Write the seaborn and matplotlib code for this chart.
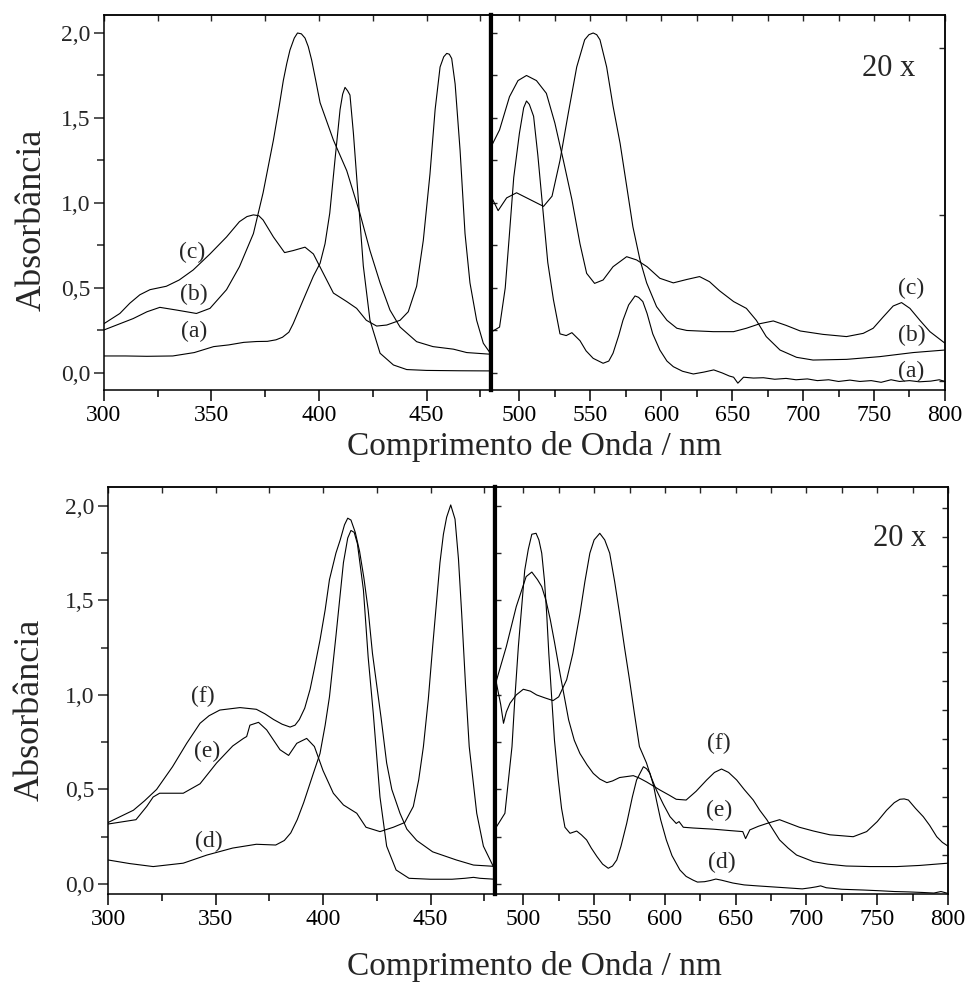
import numpy as np
import pandas as pd
import matplotlib
matplotlib.use('Agg')
import matplotlib.pyplot as plt
import seaborn as sns
from matplotlib.ticker import MultipleLocator, FixedLocator, NullFormatter

# ---------------- data ----------------
# upper panel, 300-480 nm
a_left_nm = [300, 310, 320, 332, 342, 351, 358, 365, 371, 376, 380, 383, 386, 388, 392, 397.4,
             400.5, 402.8, 405, 407.4, 409.8, 411, 412.1, 413.3, 414.4, 416, 418.3, 420.6, 423.7,
             428.4, 434.6, 440.8, 450, 465, 480]
a_left_abs = [0.10, 0.10, 0.098, 0.10, 0.12, 0.155, 0.165, 0.18, 0.185, 0.186, 0.195, 0.21, 0.24,
              0.29, 0.41, 0.57, 0.645, 0.76, 0.94, 1.25, 1.55, 1.64, 1.68, 1.66, 1.635, 1.41, 1.02,
              0.63, 0.31, 0.116, 0.047, 0.02, 0.015, 0.013, 0.012]
b_left_nm = [300, 313.6, 320, 326, 333.8, 343, 349.3, 357, 363, 369.5, 374, 378.8, 381.5, 383.4,
             385, 386.5, 388.5, 390, 391.8, 393.5, 395, 396.6, 398.5, 400.5, 406.7, 412.9, 419,
             423.7, 428.4, 433, 437.7, 445.4, 453, 462.5, 468.7, 480]
b_left_abs = [0.253, 0.32, 0.36, 0.386, 0.37, 0.35, 0.38, 0.49, 0.625, 0.82, 1.06, 1.37, 1.57,
              1.72, 1.82, 1.90, 1.97, 2.0, 1.995, 1.97, 1.92, 1.84, 1.72, 1.59, 1.37, 1.19, 0.94,
              0.72, 0.53, 0.37, 0.27, 0.184, 0.155, 0.14, 0.12, 0.11]
c_left_nm = [300, 307.4, 312, 316.7, 321.4, 329, 335, 341.5, 349.3, 357, 363, 366.5, 369.5, 372,
             374, 378.8, 384, 388, 393.5, 397.4, 402, 406.7, 412.9, 417.5, 422, 426.8, 431.5,
             437.7, 441.5, 445.4, 448.5, 451.6, 454, 456.3, 458, 459.4, 460.6, 461.7, 463.3, 465.6,
             467.9, 470.2, 473.3, 476.4, 480]
c_left_abs = [0.29, 0.35, 0.41, 0.46, 0.49, 0.51, 0.547, 0.606, 0.70, 0.80, 0.89, 0.92, 0.93,
              0.925, 0.90, 0.80, 0.708, 0.72, 0.74, 0.70, 0.586, 0.47, 0.42, 0.38, 0.31, 0.276,
              0.282, 0.31, 0.36, 0.51, 0.78, 1.17, 1.55, 1.80, 1.86, 1.88, 1.875, 1.85, 1.70, 1.31,
              0.82, 0.53, 0.31, 0.175, 0.11]

# upper panel, 480-800 nm (20 x)
a_right_nm = [480, 486, 490, 493, 496, 500, 503, 505, 507, 510, 513, 517, 520, 524, 528.6, 533,
              537, 542.7, 547, 552, 559, 563, 566, 570, 573, 577, 581.5, 584, 587, 590, 594, 599,
              604, 608.5, 615, 622.6, 630, 637, 643, 648, 651, 654, 658, 665, 672, 680, 688, 695,
              703, 710, 718, 725, 733, 740, 748, 755, 762, 768, 775, 782, 790, 796, 800]
a_right_abs = [0.24, 0.27, 0.50, 0.82, 1.15, 1.41, 1.56, 1.60, 1.58, 1.51, 1.28, 0.92, 0.65, 0.43,
               0.23, 0.22, 0.237, 0.19, 0.13, 0.086, 0.057, 0.07, 0.116, 0.22, 0.31, 0.40, 0.453,
               0.445, 0.42, 0.35, 0.23, 0.135, 0.07, 0.037, 0.01, -0.006, 0.005, 0.018, 0.0,
               -0.018, -0.025, -0.06, -0.025, -0.03, -0.028, -0.037, -0.032, -0.04, -0.035,
               -0.045, -0.04, -0.05, -0.042, -0.05, -0.045, -0.055, -0.04, -0.05, -0.045, -0.052,
               -0.048, -0.04, -0.05]
b_right_nm = [480, 486, 493, 499, 505, 512, 519, 525, 531, 537, 542.7, 547.4, 553, 559, 566, 575.6,
              582.6, 590, 599, 608.5, 618, 627, 634, 641, 651, 660, 667, 674, 683.7, 695.4, 707,
              730.6, 754, 777.6, 800]
b_right_abs = [1.33, 1.43, 1.625, 1.72, 1.75, 1.72, 1.645, 1.47, 1.25, 1.02, 0.76, 0.586, 0.527,
               0.547, 0.625, 0.684, 0.665, 0.625, 0.557, 0.53, 0.55, 0.567, 0.537, 0.484, 0.42,
               0.38, 0.31, 0.214, 0.135, 0.092, 0.076, 0.08, 0.096, 0.12, 0.135]
c_right_nm = [480, 485, 491, 498, 507.5, 517, 523, 528.6, 534.5, 540.4, 546, 549, 552, 554.5, 556.8,
              561.5, 566, 571, 575.6, 580, 585, 589.7, 596.7, 604, 611, 618, 636.7, 651, 660,
              669.6, 679, 688, 698, 714, 730.6, 742.4, 749.4, 756.5, 763.5, 769.4, 775.3, 782.3,
              789.4, 800]
c_right_abs = [1.04, 0.955, 1.03, 1.06, 1.02, 0.98, 1.04, 1.25, 1.53, 1.80, 1.96, 1.99, 2.0, 1.99,
               1.96, 1.80, 1.57, 1.35, 1.10, 0.86, 0.665, 0.53, 0.39, 0.31, 0.263, 0.25, 0.243,
               0.243, 0.263, 0.29, 0.306, 0.28, 0.247, 0.227, 0.214, 0.233, 0.263, 0.33, 0.394,
               0.414, 0.38, 0.31, 0.243, 0.175]

# lower panel, 300-480 nm
d_left_nm = [300, 310, 321, 335, 346, 358, 369, 378, 382, 385, 388, 391, 395.5, 398.6, 401, 403,
             406, 409.5, 411.5, 413, 414.5, 416, 418.8, 421, 423.4, 426.5, 429.6, 434, 440, 450,
             460, 466, 470, 473, 480]
d_left_abs = [0.127, 0.108, 0.092, 0.11, 0.153, 0.19, 0.21, 0.206, 0.23, 0.27, 0.34, 0.43, 0.585,
              0.69, 0.84, 0.99, 1.31, 1.70, 1.83, 1.87, 1.86, 1.80, 1.555, 1.20, 0.90, 0.46, 0.20,
              0.074, 0.03, 0.025, 0.025, 0.03, 0.035, 0.03, 0.025]
e_left_nm = [300, 313, 318, 321, 324, 335, 342.8, 350.5, 358, 363, 364.5, 366, 370, 373.8, 380,
             384, 387.8, 392.4, 396, 400, 404.8, 409.5, 415.7, 420, 426.5, 432.7, 438, 442, 444.5,
             446.7, 449, 451, 454.4, 456, 457.5, 459.4, 461.4, 463, 464.5, 466.3, 468, 471.5,
             474.6, 480]
e_left_abs = [0.317, 0.34, 0.41, 0.46, 0.48, 0.48, 0.53, 0.64, 0.73, 0.77, 0.78, 0.84, 0.855,
              0.815, 0.71, 0.68, 0.744, 0.77, 0.727, 0.60, 0.48, 0.418, 0.374, 0.30, 0.277, 0.30,
              0.325, 0.41, 0.55, 0.727, 0.98, 1.256, 1.70, 1.85, 1.94, 2.005, 1.93, 1.72, 1.43,
              1.05, 0.727, 0.374, 0.20, 0.074]
f_left_nm = [300, 311.8, 317, 322.6, 330, 336.6, 342.8, 347, 352, 361.4, 369, 373, 377, 381, 384.7,
             387, 389, 391.5, 394, 396, 398.6, 401, 403, 406, 408, 410, 411.5, 413, 415, 417, 419,
             421, 423, 425, 427, 429.6, 432, 435.8, 439, 443.6, 451, 462, 470, 480]
f_left_abs = [0.325, 0.39, 0.44, 0.50, 0.62, 0.744, 0.85, 0.89, 0.92, 0.933, 0.924, 0.90, 0.87,
              0.845, 0.83, 0.84, 0.87, 0.93, 1.03, 1.14, 1.29, 1.45, 1.61, 1.75, 1.82, 1.90, 1.935,
              1.925, 1.86, 1.76, 1.62, 1.45, 1.22, 1.05, 0.88, 0.64, 0.50, 0.374, 0.29, 0.23, 0.17,
              0.127, 0.10, 0.093]

# lower panel, 480-800 nm (20 x)
d_right_nm = [480, 487, 492, 494, 496.5, 499, 501, 503.5, 506, 509, 511, 513, 515, 516.5, 518, 520,
              522, 524.7, 527, 529.4, 533, 537.7, 541, 544.7, 548, 552, 556, 560, 563, 566, 569,
              573, 577, 580, 584.8, 587, 589.5, 592, 594, 597, 601, 605, 610.6, 615, 620, 623, 628,
              632, 636, 640, 648, 656, 665, 675, 685, 697, 703, 707, 710, 714, 725, 740, 752, 762,
              772, 782, 790, 795, 800]
d_right_abs = [0.29, 0.374, 0.727, 0.98, 1.256, 1.48, 1.66, 1.77, 1.85, 1.855, 1.82, 1.75, 1.60,
               1.43, 1.22, 0.99, 0.76, 0.55, 0.40, 0.30, 0.268, 0.28, 0.26, 0.233, 0.19, 0.145,
               0.105, 0.083, 0.095, 0.127, 0.20, 0.32, 0.46, 0.55, 0.62, 0.61, 0.585, 0.52, 0.444,
               0.34, 0.233, 0.15, 0.074, 0.04, 0.02, 0.01, 0.012, 0.018, 0.026, 0.02, 0.005,
               -0.005, -0.01, -0.015, -0.02, -0.026, -0.02, -0.015, -0.01, -0.02, -0.028, -0.032,
               -0.036, -0.04, -0.042, -0.045, -0.048, -0.04, -0.05]
e_right_nm = [480, 484, 486, 488, 490.6, 495, 500, 505, 509.4, 515, 521, 525, 530.6, 535, 540,
              543.5, 547, 550, 554, 557.5, 561, 564.5, 568, 571.5, 575, 578.5, 582, 587, 590, 594,
              599, 603.6, 608, 610, 613, 620, 634, 645, 655, 657, 660, 666, 672, 681, 688, 695,
              705, 716.6, 725, 733, 742.5, 750, 756.6, 762, 766, 769, 772, 777, 782.5, 787, 792,
              796, 800]
e_right_abs = [1.10, 0.95, 0.85, 0.91, 0.956, 1.0, 1.03, 1.02, 1.0, 0.985, 0.97, 0.99, 1.08, 1.22,
               1.43, 1.60, 1.75, 1.82, 1.855, 1.82, 1.75, 1.60, 1.43, 1.25, 1.08, 0.90, 0.727,
               0.64, 0.57, 0.497, 0.42, 0.356, 0.32, 0.33, 0.30, 0.296, 0.29, 0.283, 0.277, 0.24,
               0.286, 0.305, 0.32, 0.34, 0.32, 0.30, 0.28, 0.26, 0.255, 0.25, 0.277, 0.33, 0.39,
               0.43, 0.448, 0.45, 0.444, 0.40, 0.356, 0.31, 0.25, 0.22, 0.20]
f_right_nm = [480, 488, 495, 502, 506, 510, 513, 516, 519, 522, 526, 532, 536, 540, 545, 549.4, 554,
              559, 563, 568, 577.7, 582, 587, 596.5, 603, 608, 615, 622, 629.5, 635, 640, 645,
              650.7, 656, 662.4, 667, 672, 677, 681, 687, 693, 705, 715, 728, 745, 763.7, 780, 800]
f_right_abs = [1.05, 1.256, 1.467, 1.626, 1.65, 1.61, 1.573, 1.50, 1.40, 1.28, 1.11, 0.868, 0.76,
               0.69, 0.63, 0.585, 0.555, 0.536, 0.545, 0.563, 0.573, 0.56, 0.54, 0.497, 0.47,
               0.448, 0.444, 0.49, 0.55, 0.59, 0.608, 0.59, 0.55, 0.50, 0.444, 0.39, 0.34, 0.28,
               0.233, 0.19, 0.153, 0.118, 0.105, 0.095, 0.092, 0.092, 0.098, 0.11]

left_xticks = [300, 350, 400, 450]
right_xticks = [500, 550, 600, 650, 700, 750, 800]
yticks = [0.0, 0.5, 1.0, 1.5, 2.0]
ytick_labels = ['0,0', '0,5', '1,0', '1,5', '2,0']
xlabel = 'Comprimento de Onda / nm'
ylabel = 'Absorbância'

# ---------------- style ----------------
sns.set_theme(style='ticks')
plt.rcParams['font.family'] = ['Liberation Serif', 'DejaVu Serif']
plt.rcParams['axes.linewidth'] = 1.1

fig = plt.figure(figsize=(9.67, 9.85), dpi=100)


def style_axes(ax, xlim, xticks, ylim, show_ylabels):
    ax.set_xlim(*xlim)
    ax.set_ylim(*ylim)
    ax.set_xticks(xticks)
    ax.xaxis.set_minor_locator(MultipleLocator(25))
    ax.tick_params(axis='x', which='both', direction='out', bottom=True, top=False,
                   labelsize=17, width=1.1, pad=3, colors='black')
    ax.tick_params(axis='x', which='major', length=8)
    ax.tick_params(axis='x', which='minor', length=5)
    ax.set_xlabel('')
    ax.set_ylabel('')
    for s in ax.spines.values():
        s.set_visible(True)
        s.set_color('black')
    # inward ticks along the top edge
    top = ax.secondary_xaxis('top')
    top.xaxis.set_major_locator(MultipleLocator(25))
    top.xaxis.set_major_formatter(NullFormatter())
    top.tick_params(direction='in', length=4, width=1.0)
    top.spines['top'].set_linewidth(1.1)
    if show_ylabels:
        ax.set_yticks(yticks)
        ax.set_yticklabels(ytick_labels)
        ax.yaxis.set_minor_locator(MultipleLocator(0.25))
        ax.tick_params(axis='y', which='both', direction='out', left=True, right=False,
                       labelsize=17, width=1.1, pad=3)
        ax.tick_params(axis='y', which='major', length=7)
        ax.tick_params(axis='y', which='minor', length=5)
        ax.spines['right'].set_linewidth(3)
    else:
        ax.yaxis.set_major_locator(MultipleLocator(0.25))
        ax.yaxis.set_major_formatter(NullFormatter())
        ax.tick_params(axis='y', which='both', direction='in', left=True, right=False,
                       length=4, width=1.0)
        ax.spines['left'].set_linewidth(3)


def draw_curves(ax, curves):
    for nm, ab in curves:
        sns.lineplot(x=nm, y=ab, ax=ax, color='black', lw=0.8, estimator=None)


# ---------------- upper panel ----------------
ylim_top = (-0.1, 2.106)
ax1 = fig.add_axes([0.1075, 0.6041, 0.4003, 0.3807])
ax2 = fig.add_axes([0.5078, 0.6041, 0.4694, 0.3807])
draw_curves(ax1, [(a_left_nm, a_left_abs), (b_left_nm, b_left_abs), (c_left_nm, c_left_abs)])
draw_curves(ax2, [(a_right_nm, a_right_abs), (b_right_nm, b_right_abs), (c_right_nm, c_right_abs)])
style_axes(ax1, (300, 480), left_xticks, ylim_top, True)
style_axes(ax2, (480, 800), right_xticks, ylim_top, False)
sec = ax2.secondary_yaxis('right')
sec.yaxis.set_major_locator(FixedLocator([1.91, 0.93, -0.05]))
sec.yaxis.set_major_formatter(NullFormatter())
sec.tick_params(direction='in', length=4, width=1.0)

for txt, x, y in [('(c)', 341, 0.71), ('(b)', 342, 0.46), ('(a)', 342, 0.243)]:
    ax1.text(x, y, txt, fontsize=17, ha='center', va='center')
for txt, x, y in [('(c)', 776, 0.50), ('(b)', 776.5, 0.22), ('(a)', 776.5, 0.01)]:
    ax2.text(x, y, txt, fontsize=17, ha='center', va='center')
ax2.text(760, 1.79, '20 x', fontsize=22, ha='center', va='center')

# ---------------- lower panel ----------------
ylim_bot = (-0.053, 2.1)
ax3 = fig.add_axes([0.1117, 0.0924, 0.4002, 0.4132])
ax4 = fig.add_axes([0.5119, 0.0924, 0.4685, 0.4132])
draw_curves(ax3, [(d_left_nm, d_left_abs), (e_left_nm, e_left_abs), (f_left_nm, f_left_abs)])
draw_curves(ax4, [(d_right_nm, d_right_abs), (e_right_nm, e_right_abs), (f_right_nm, f_right_abs)])
style_axes(ax3, (300, 480), left_xticks, ylim_bot, True)
style_axes(ax4, (480, 800), right_xticks, ylim_bot, False)
sec = ax4.secondary_yaxis('right')
sec.yaxis.set_major_locator(FixedLocator([1.99, 1.836, 1.683, 1.53, 1.378, 1.225, 1.072, 0.92,
                                          0.767, 0.614, 0.461, 0.308, 0.155]))
sec.yaxis.set_major_formatter(NullFormatter())
sec.tick_params(direction='in', length=4, width=1.0)

for txt, x, y in [('(f)', 344, 0.99), ('(e)', 346, 0.70), ('(d)', 347, 0.224)]:
    ax3.text(x, y, txt, fontsize=17, ha='center', va='center')
for txt, x, y in [('(f)', 638, 0.744), ('(e)', 638, 0.39), ('(d)', 640, 0.113)]:
    ax4.text(x, y, txt, fontsize=17, ha='center', va='center')
ax4.text(766, 1.825, '20 x', fontsize=22, ha='center', va='center')

# ---------------- axis titles ----------------
fig.text(534 / 967, 1 - 446 / 985, xlabel, fontsize=24, ha='center', va='center')
fig.text(534 / 967, 1 - 966 / 985, xlabel, fontsize=24, ha='center', va='center')
fig.text(32 / 967, 1 - 220 / 985, ylabel, fontsize=26, rotation=90, ha='center', va='center')
fig.text(30 / 967, 1 - 710 / 985, ylabel, fontsize=26, rotation=90, ha='center', va='center')

fig.savefig('out.png', dpi=100)
